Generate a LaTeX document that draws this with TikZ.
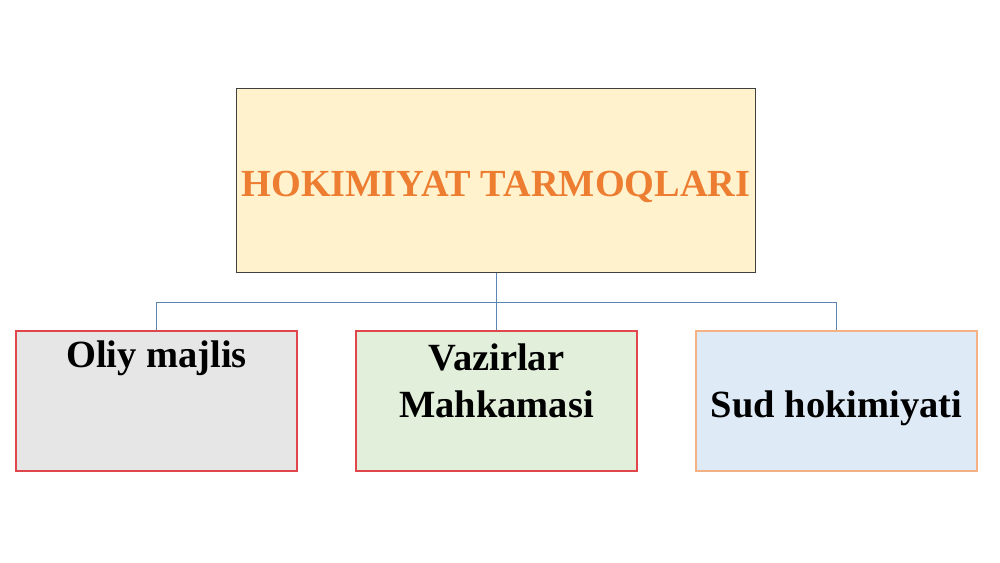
\documentclass[tikz,border=0pt]{standalone}
\usepackage{fontspec}
\setmainfont{Liberation Serif}
\definecolor{topfill}{HTML}{FFF2CC}
\definecolor{topdraw}{HTML}{404040}
\definecolor{toptext}{HTML}{ED7D31}
\definecolor{linkcol}{HTML}{5B84B1}
\definecolor{redline}{HTML}{E0474C}
\definecolor{peach}{HTML}{F4B183}
\definecolor{grayfill}{HTML}{E7E6E6}
\definecolor{greenfill}{HTML}{E2EFDA}
\definecolor{bluefill}{HTML}{DEEBF7}
\begin{document}
\begin{tikzpicture}[x=1pt,y=-1pt,
  box/.style={draw, line width=1.2pt, minimum width=281pt, minimum height=140pt, inner sep=0pt},
  label/.style={font=\bfseries\fontsize{38.5}{47}\selectfont, align=center, inner sep=0pt, anchor=base},
  link/.style={draw=linkcol, line width=1pt}]
\useasboundingbox (0,0) rectangle (1000,562);
\node[draw=topdraw, fill=topfill, line width=1pt, minimum width=519pt, minimum height=184pt, inner sep=0pt] (top) at (496,180) {};
\node[font=\bfseries\fontsize{38.3}{46}\selectfont, text=toptext, inner sep=0pt, anchor=base] (topt) at (496,196) {HOKIMIYAT TARMOQLARI};
\node[box, draw=redline, fill=grayfill] (oliy) at (156.5,401) {};
\node[label] (oliyt) at (156.5,367) {Oliy majlis};
\node[box, draw=redline, fill=greenfill] (vaz) at (496.5,401) {};
\node[label] (vazt1) at (496.5,370) {Vazirlar};
\node[label] (vazt2) at (496.5,417) {Mahkamasi};
\node[box, draw=peach, fill=bluefill] (sud) at (836.5,401) {};
\node[label] (sudt) at (836.5,417) {Sud hokimiyati};
\coordinate (bus) at (496,302);
\draw[link] (top.south) -- (bus);
\draw[link] (oliy.north) |- (bus);
\draw[link] (sud.north) |- (bus);
\draw[link] (bus) -- (bus |- vaz.north);
\end{tikzpicture}
\end{document}
